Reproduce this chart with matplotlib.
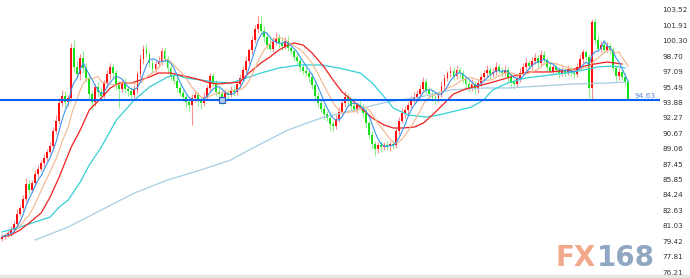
import numpy as np
import pandas as pd
import matplotlib
matplotlib.use("Agg")
import matplotlib.pyplot as plt
from matplotlib.patches import Rectangle

# daily candles, open of each bar = previous close
first_open = 79.7
closes = [
    79.9, 80.1, 80.3, 80.6, 81.2, 82.3, 82.9, 83.8, 85.4, 84.8,
    85.5, 86.4, 86.9, 87.6, 88.1, 88.7, 89.3, 90.9, 92.0, 93.8,
    94.6, 93.9, 94.3, 99.6, 97.6, 96.8, 98.5, 97.5, 96.4, 94.8,
    93.9, 95.5, 95.0, 94.6, 95.9, 96.8, 97.6, 96.9, 95.8, 95.3,
    95.9, 95.3, 95.1, 94.7, 95.2, 96.8, 98.4, 99.5, 98.9, 98.0,
    97.4, 97.9, 98.2, 99.2, 98.4, 97.5, 96.6, 96.1, 95.4, 94.9,
    94.4, 93.9, 93.6, 94.3, 94.7, 94.0, 93.8, 94.5, 95.4, 96.6,
    95.9, 95.0, 94.8, 94.2, 94.9, 94.7, 95.2, 95.0, 95.8, 96.4,
    97.3, 98.2, 99.3, 100.4, 101.5, 102.1, 101.3, 100.7, 99.9, 99.5,
    100.2, 100.6, 100.1, 99.8, 100.3, 99.6, 99.2, 98.6, 98.2, 97.6,
    97.2, 96.9, 96.5, 95.7, 94.6, 93.8, 93.2, 92.7, 92.3, 91.6,
    91.4, 92.2, 92.9, 93.8, 94.5, 94.0, 93.5, 93.2, 93.6, 93.4,
    92.8, 91.7, 90.5, 89.6, 89.0, 89.4, 89.2, 89.5, 89.3, 89.6,
    89.4, 90.9, 92.0, 92.8, 93.1, 93.6, 94.2, 94.5, 94.8, 95.3,
    96.0, 95.2, 94.8, 94.4, 94.3, 94.7, 95.6, 96.4, 96.9, 97.2,
    96.6, 97.3, 96.9, 96.3, 95.8, 95.4, 95.8, 95.3, 95.9, 96.5,
    96.9, 97.3, 96.8, 97.1, 97.6, 97.2, 96.9, 97.3, 96.5, 96.0,
    95.8, 96.4, 97.0, 97.6, 98.0, 97.7, 98.2, 98.5, 98.0, 98.8,
    98.3, 97.6, 97.2, 97.6, 97.3, 96.9, 97.3, 97.0, 97.4, 97.0,
    96.8, 97.6, 98.4, 99.1, 98.6, 95.4, 102.3, 100.4, 99.5, 99.9,
    99.4, 99.8, 99.3, 97.5, 96.6, 97.1, 96.5, 96.0, 94.2,
]
upper_wick = [
    0.3, 0.2, 0.3, 0.4, 0.3, 0.5, 0.3, 0.4, 0.6, 0.4,
    0.3, 0.4, 0.5, 0.3, 0.4, 0.3, 0.5, 0.4, 0.6, 0.5,
    0.6, 0.5, 0.4, 0.5, 0.8, 0.6, 0.4, 0.7, 0.5, 0.4,
    0.4, 0.3, 0.5, 0.4, 0.3, 0.5, 0.4, 0.3, 0.4, 0.3,
    0.4, 0.5, 0.3, 0.4, 0.5, 0.4, 0.5, 0.4, 0.5, 0.3,
    0.4, 0.3, 0.5, 0.4, 0.5, 0.3, 0.4, 0.3, 0.4, 0.3,
    0.3, 0.4, 0.3, 0.5, 0.4, 0.3, 0.4, 0.5, 0.3, 0.4,
    0.4, 0.3, 0.5, 0.3, 0.4, 0.3, 0.4, 0.5, 0.3, 0.4,
    0.4, 0.5, 0.3, 0.4, 0.5, 0.8, 0.9, 0.6, 0.5, 0.7,
    0.5, 0.6, 0.4, 0.5, 0.4, 0.5, 0.4, 0.3, 0.4, 0.3,
    0.3, 0.4, 0.3, 0.4, 0.3, 0.4, 0.3, 0.4, 0.3, 0.4,
    0.3, 0.4, 0.5, 0.4, 0.6, 0.4, 0.3, 0.4, 0.3, 0.4,
    0.3, 0.4, 0.3, 0.4, 0.3, 0.4, 0.5, 0.3, 0.4, 0.3,
    0.4, 0.3, 0.4, 0.5, 0.4, 0.3, 0.4, 0.5, 0.4, 0.5,
    0.5, 0.4, 0.3, 0.4, 0.3, 0.4, 0.5, 0.4, 0.3, 0.5,
    0.4, 0.5, 0.3, 0.4, 0.3, 0.4, 0.5, 0.3, 0.4, 0.3,
    0.4, 0.5, 0.3, 0.4, 0.5, 0.3, 0.4, 0.5, 0.3, 0.4,
    0.3, 0.4, 0.5, 0.4, 0.5, 0.3, 0.4, 0.5, 0.3, 0.5,
    0.4, 0.3, 0.4, 0.3, 0.4, 0.3, 0.4, 0.3, 0.4, 0.3,
    0.3, 0.4, 0.5, 0.4, 0.3, 0.3, 0.3, 0.4, 0.5, 0.4,
    0.3, 0.4, 0.3, 0.4, 0.3, 0.4, 0.3, 0.4, 0.2,
]
lower_wick = [
    0.3, 0.2, 0.2, 0.3, 0.2, 0.3, 0.2, 0.4, 0.3, 0.5,
    0.4, 0.3, 0.3, 0.2, 0.4, 0.3, 0.2, 0.4, 0.3, 0.4,
    0.3, 0.6, 0.4, 0.3, 0.5, 0.4, 0.6, 0.5, 0.4, 0.6,
    0.8, 0.4, 0.5, 0.6, 0.3, 0.4, 0.5, 0.4, 0.6, 2.0,
    0.3, 0.4, 0.5, 0.6, 0.4, 0.3, 0.4, 0.5, 0.3, 0.4,
    0.3, 0.4, 0.3, 0.4, 0.3, 0.5, 0.4, 0.3, 0.4, 0.3,
    0.4, 0.5, 0.6, 2.1, 0.4, 0.5, 0.6, 0.3, 0.4, 0.3,
    0.3, 0.4, 0.3, 0.6, 0.4, 0.5, 0.3, 0.4, 0.3, 0.4,
    0.3, 0.4, 0.3, 0.4, 0.3, 0.4, 0.3, 0.5, 0.4, 0.3,
    0.4, 0.3, 0.5, 0.4, 0.3, 0.4, 0.3, 0.4, 0.3, 0.4,
    0.4, 0.3, 0.5, 0.4, 0.5, 0.4, 0.3, 0.5, 0.4, 0.6,
    0.5, 0.3, 0.4, 0.3, 0.4, 0.5, 0.4, 0.3, 0.4, 0.3,
    0.4, 0.5, 0.4, 0.6, 0.7, 0.4, 0.5, 0.3, 0.4, 0.5,
    0.4, 0.3, 0.4, 0.3, 0.5, 0.4, 0.3, 0.4, 0.5, 0.3,
    0.3, 0.4, 0.5, 0.4, 0.6, 0.4, 0.3, 0.4, 0.3, 0.4,
    0.4, 0.3, 0.5, 0.4, 0.5, 0.4, 0.3, 0.5, 0.4, 0.3,
    0.3, 0.4, 0.5, 0.3, 0.4, 0.3, 0.4, 0.3, 0.5, 0.4,
    0.5, 0.3, 0.4, 0.3, 0.4, 0.3, 0.4, 0.3, 0.4, 0.3,
    0.3, 0.4, 0.3, 0.4, 0.3, 0.5, 0.3, 0.4, 0.3, 0.4,
    0.4, 0.3, 0.3, 0.4, 0.3, 1.1, 1.3, 0.4, 0.3, 0.4,
    0.4, 0.3, 0.4, 0.3, 0.5, 0.4, 0.3, 0.4, 0.1,
]

# longer averages (bar index, price)
red_ma_idx = [0, 3, 6, 9, 13, 16, 19, 23, 26, 29, 33, 36, 39, 43, 46, 49, 52, 56,
              59, 62, 66, 69, 72, 79, 82, 86, 89, 92, 95, 97, 100, 103, 107, 110,
              113, 117, 120, 123, 127, 130, 133, 137, 140, 143, 147, 150, 154, 162,
              169, 175, 182, 189, 195, 201, 206]
red_ma_val = [79.86, 80.07, 80.59, 81.32, 82.36, 84.03, 86.11, 89.24, 91.01, 93.10,
              94.35, 95.39, 95.91, 95.91, 96.22, 96.54, 96.95, 96.95, 96.74, 96.54,
              96.22, 95.91, 95.81, 96.01, 96.95, 97.99, 98.62, 99.35, 99.87, 100.08,
              99.87, 99.04, 97.58, 96.22, 94.97, 93.93, 93.10, 92.26, 91.53, 91.22,
              91.22, 91.32, 91.74, 92.57, 93.82, 94.76, 95.28, 95.91, 96.54, 97.06,
              97.06, 97.27, 97.79, 98.10, 97.89]

cyan_ma_idx = [0, 6, 13, 16, 19, 22, 26, 29, 33, 38, 44, 49, 55, 58, 61, 66, 71, 76,
               79, 86, 92, 99, 106, 112, 119, 123, 127, 130, 135, 141, 145, 152, 156,
               160, 163, 168, 174, 182, 190, 198, 203, 207]
cyan_ma_val = [80.38, 80.90, 81.63, 81.94, 82.98, 83.71, 85.59, 87.36, 89.24, 92.05,
               94.14, 95.49, 96.54, 96.74, 96.43, 96.22, 96.01, 95.91, 96.22, 96.95,
               97.47, 97.79, 97.79, 97.47, 96.95, 95.91, 94.45, 93.30, 92.57, 92.36,
               92.57, 93.10, 93.41, 94.14, 95.18, 95.91, 96.43, 96.74, 97.06, 97.58,
               97.68, 97.47]

long_ma_idx = [11, 22, 33, 44, 55, 66, 76, 84, 95, 106, 117, 128, 139, 149, 160, 168,
               179, 190, 201, 207]
long_ma_val = [79.55, 80.90, 82.67, 84.45, 85.80, 86.84, 87.88, 89.24, 91.01, 92.26,
               93.10, 93.93, 94.45, 95.18, 95.39, 95.39, 95.60, 95.81, 95.91, 96.01]

tick_values = [103.52, 101.91, 100.30, 98.70, 97.09, 95.49, 93.88, 92.27, 90.67,
               89.06, 87.45, 85.85, 84.24, 82.63, 81.03, 79.42, 77.81, 76.21]

level_value = 94.14
level_label = "94.63"
anchor_bar = 73

W, H = 690, 278


def build_ohlc():
    c = np.array(closes)
    o = np.concatenate([[first_open], c[:-1]])
    hi = np.maximum(o, c) + np.array(upper_wick)
    lo = np.minimum(o, c) - np.array(lower_wick)
    return o, hi, lo, c


def draw_candles(ax, o, hi, lo, c):
    x = np.arange(len(c))
    up = c >= o
    dn = ~up
    ax.vlines(x[up], lo[up], hi[up], color="#ff8f8f", lw=0.8, zorder=2)
    ax.vlines(x[dn], lo[dn], hi[dn], color="#8ff08f", lw=0.8, zorder=2)
    body = np.maximum(np.abs(c - o), 0.06)
    ax.bar(x[up], body[up], bottom=o[up], width=0.62, color="#ff1010", lw=0, zorder=3)
    ax.bar(x[dn], body[dn], bottom=c[dn], width=0.62, color="#18e018", lw=0, zorder=3)


def draw_averages(ax, c):
    s = pd.Series(c)
    x = np.arange(len(c))
    ax.plot(long_ma_idx, long_ma_val, color="#a6cce2", lw=0.9, zorder=4)
    ax.plot(cyan_ma_idx, cyan_ma_val, color="#35cfd6", lw=0.9, zorder=4)
    ax.plot(red_ma_idx, red_ma_val, color="#f02020", lw=0.9, zorder=4)
    ax.plot(x, s.rolling(10, min_periods=1).mean(), color="#f4b58a", lw=0.8, zorder=5)
    ax.plot(x, s.rolling(5, min_periods=1).mean(), color="#3b95ee", lw=0.8, zorder=5)


if __name__ == "__main__":
    plt.rcParams["font.family"] = ["DejaVu Sans"]
    fig = plt.figure(figsize=(W / 100, H / 100), dpi=100)
    fig.patch.set_facecolor("white")
    ax = fig.add_axes([0, 3 / H, 660 / W, 275 / H])

    o, hi, lo, c = build_ohlc()
    draw_candles(ax, o, hi, lo, c)
    draw_averages(ax, c)

    ax.axhline(level_value, color="#0a62f2", lw=1.5, zorder=6)
    ax.plot([anchor_bar], [level_value], marker="s", ms=5, mfc="#a9c8ef",
            mec="#2f5fbf", mew=0.8, zorder=7)
    ax.text(213.6, level_value + 0.15, level_label, color="#5a8ee0", fontsize=5.3,
            ha="center", va="bottom", zorder=7)

    ax.set_xlim(-0.66, 218.6)
    ax.set_ylim(75.90, 104.56)
    ax.set_xticks([])
    ax.set_yticks(tick_values)
    ax.set_yticklabels([f"{v:.2f}" for v in tick_values])
    ax.yaxis.tick_right()
    ax.tick_params(axis="y", length=0, pad=1.5, labelsize=5.2, labelcolor="#333333")
    for sp in ax.spines.values():
        sp.set_visible(False)

    # watermark
    fig.text(555 / W, 1 - 258 / H, "FX", color="#f2a88b", fontsize=20,
             fontweight="bold", family="DejaVu Sans", ha="left", va="center")
    fig.text(597 / W, 1 - 258 / H, "168", color="#8fa7c1", fontsize=20,
             fontweight="bold", family="DejaVu Sans", ha="left", va="center")

    fig.patches.append(Rectangle((0, 0), 1, 3 / H, transform=fig.transFigure,
                                 color="#e6e6e6", zorder=0))

    fig.savefig("out.png", dpi=100)
